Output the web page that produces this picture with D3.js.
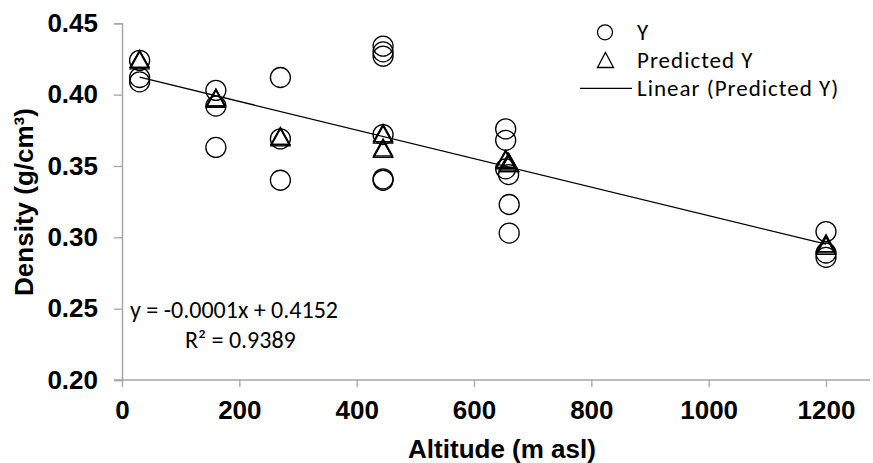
<!DOCTYPE html>
<html>
<head>
<meta charset="utf-8">
<script src="https://cdn.jsdelivr.net/npm/d3@7"></script>
<style>
  body { margin: 0; background: #fff; }
  svg { display: block; }
</style>
</head>
<body>
<svg id="chart"></svg>
<script>
let d3 = window.d3

// altitude (m asl) of each sample, shared by both series
let altitude = [30, 30, 30, 160, 160, 160, 270, 270, 270,
  445, 445, 445, 445, 445, 445, 654, 654, 654, 659, 660, 660, 1200, 1200, 1200]
let densityY = [0.424, 0.412, 0.409, 0.403, 0.392, 0.363, 0.412, 0.369, 0.340,
  0.434, 0.430, 0.427, 0.372, 0.341, 0.340, 0.376, 0.368, 0.348, 0.344, 0.323, 0.303, 0.304, 0.289, 0.286]
let predictedY = [0.425, 0.424, 0.425, 0.398, 0.398, 0.397, 0.371, 0.370, 0.371,
  0.373, 0.373, 0.372, 0.362, 0.362, 0.363, 0.355, 0.354, 0.355, 0.353, 0.352, 0.352, 0.295, 0.294, 0.296]

let xTicks = [0, 200, 400, 600, 800, 1000, 1200]
let yTicks = [0.20, 0.25, 0.30, 0.35, 0.40, 0.45]
let legendLabels = ['Y', 'Predicted Y', 'Linear (Predicted Y)']
let trendSlope = -0.0001
let trendIntercept = 0.4152
let equationText = 'y = -0.0001x + 0.4152'
let r2Text = 'R² = 0.9389'

let width = 873
let height = 463
let axisColor = '#a6a6a6'
let boldFont = '"Liberation Sans", Arial, sans-serif'
let lightFont = 'Carlito, Calibri, Lato, sans-serif'

let svg = d3.select('#chart')
  .attr('width', width)
  .attr('height', height)

let x = d3.scaleLinear().domain([0, 1275]).range([122, 870])
let y = d3.scaleLinear().domain([0.20, 0.45]).range([380, 23.3])

let xAxis = d3.axisBottom(x).tickValues(xTicks).tickSize(7).tickPadding(14).tickFormat(d3.format('d'))
let yAxis = d3.axisLeft(y).tickValues(yTicks).tickSize(8).tickPadding(16).tickFormat(d3.format('.2f'))

function styleAxis (g) {
  g.select('.domain').attr('stroke', axisColor).attr('stroke-width', 1.5)
  g.selectAll('.tick line').attr('stroke', axisColor).attr('stroke-width', 1.3)
  g.selectAll('.tick text')
    .attr('fill', '#000')
    .style('font-family', boldFont)
    .style('font-weight', 'bold')
    .style('font-size', '26px')
}

svg.append('g')
  .attr('class', 'y axis')
  .attr('transform', 'translate(' + x(0) + ',0)')
  .call(yAxis)
  .call(styleAxis)

svg.append('g')
  .attr('class', 'x axis')
  .attr('transform', 'translate(0,' + y(0.20) + ')')
  .call(xAxis)
  .call(styleAxis)
  .call(g => g.select('.domain').attr('d', 'M' + (x(0) - 8) + ',0H' + x(1275)))

// axis titles
svg.append('text')
  .attr('x', 502)
  .attr('y', 458)
  .attr('text-anchor', 'middle')
  .style('font-family', boldFont)
  .style('font-weight', 'bold')
  .style('font-size', '26px')
  .text('Altitude (m asl)')

svg.append('text')
  .attr('transform', 'translate(33,202) rotate(-90)')
  .attr('text-anchor', 'middle')
  .style('font-family', boldFont)
  .style('font-weight', 'bold')
  .style('font-size', '26px')
  .text('Density (g/cm³)')

let points = altitude.map(function (a, i) {
  return { alt: a, obs: densityY[i], pred: predictedY[i] }
})

let triangle = function (w, h) {
  return 'M0,' + (-h / 2) + 'L' + (w / 2) + ',' + (h / 2) + 'L' + (-w / 2) + ',' + (h / 2) + 'Z'
}

let plot = svg.append('g').attr('class', 'plot')

plot.selectAll('circle.obs')
  .data(points)
  .enter().append('circle')
  .attr('class', 'obs')
  .attr('cx', d => x(d.alt))
  .attr('cy', d => y(d.obs))
  .attr('r', 10)
  .attr('fill', 'none')
  .attr('stroke', '#000')
  .attr('stroke-width', 1.3)

plot.selectAll('path.pred')
  .data(points)
  .enter().append('path')
  .attr('class', 'pred')
  .attr('transform', d => 'translate(' + x(d.alt) + ',' + y(d.pred) + ')')
  .attr('d', triangle(19, 17))
  .attr('fill', 'none')
  .attr('stroke', '#000')
  .attr('stroke-width', 1.3)

let trendX = d3.extent(altitude)
let line = d3.line()
  .x(d => x(d))
  .y(d => y(trendIntercept + trendSlope * d))

plot.append('path')
  .datum(trendX)
  .attr('d', line)
  .attr('fill', 'none')
  .attr('stroke', '#000')
  .attr('stroke-width', 1.3)

// equation
svg.append('text')
  .attr('x', 130)
  .attr('y', 318)
  .style('font-family', lightFont)
  .style('font-size', '24px')
  .text(equationText)

svg.append('text')
  .attr('x', 185)
  .attr('y', 348)
  .style('font-family', lightFont)
  .style('font-size', '24px')
  .text(r2Text)

// legend
let legend = svg.append('g').attr('class', 'legend')
let rows = [32.3, 60, 88.3]

legend.append('circle')
  .attr('cx', 605).attr('cy', rows[0]).attr('r', 7.5)
  .attr('fill', 'none').attr('stroke', '#000').attr('stroke-width', 1.3)
legend.append('path')
  .attr('transform', 'translate(605.5,' + rows[1] + ')')
  .attr('d', triangle(16, 15))
  .attr('fill', 'none').attr('stroke', '#000').attr('stroke-width', 1.3)
legend.append('line')
  .attr('x1', 580).attr('x2', 632).attr('y1', rows[2]).attr('y2', rows[2])
  .attr('stroke', '#000').attr('stroke-width', 1.3)

legend.selectAll('text')
  .data(legendLabels)
  .enter().append('text')
  .attr('x', 637)
  .attr('y', (d, i) => rows[i])
  .attr('dy', '0.35em')
  .style('font-family', lightFont)
  .style('font-size', '23px')
  .style('letter-spacing', '1px')
  .text(d => d)
</script>
</body>
</html>
